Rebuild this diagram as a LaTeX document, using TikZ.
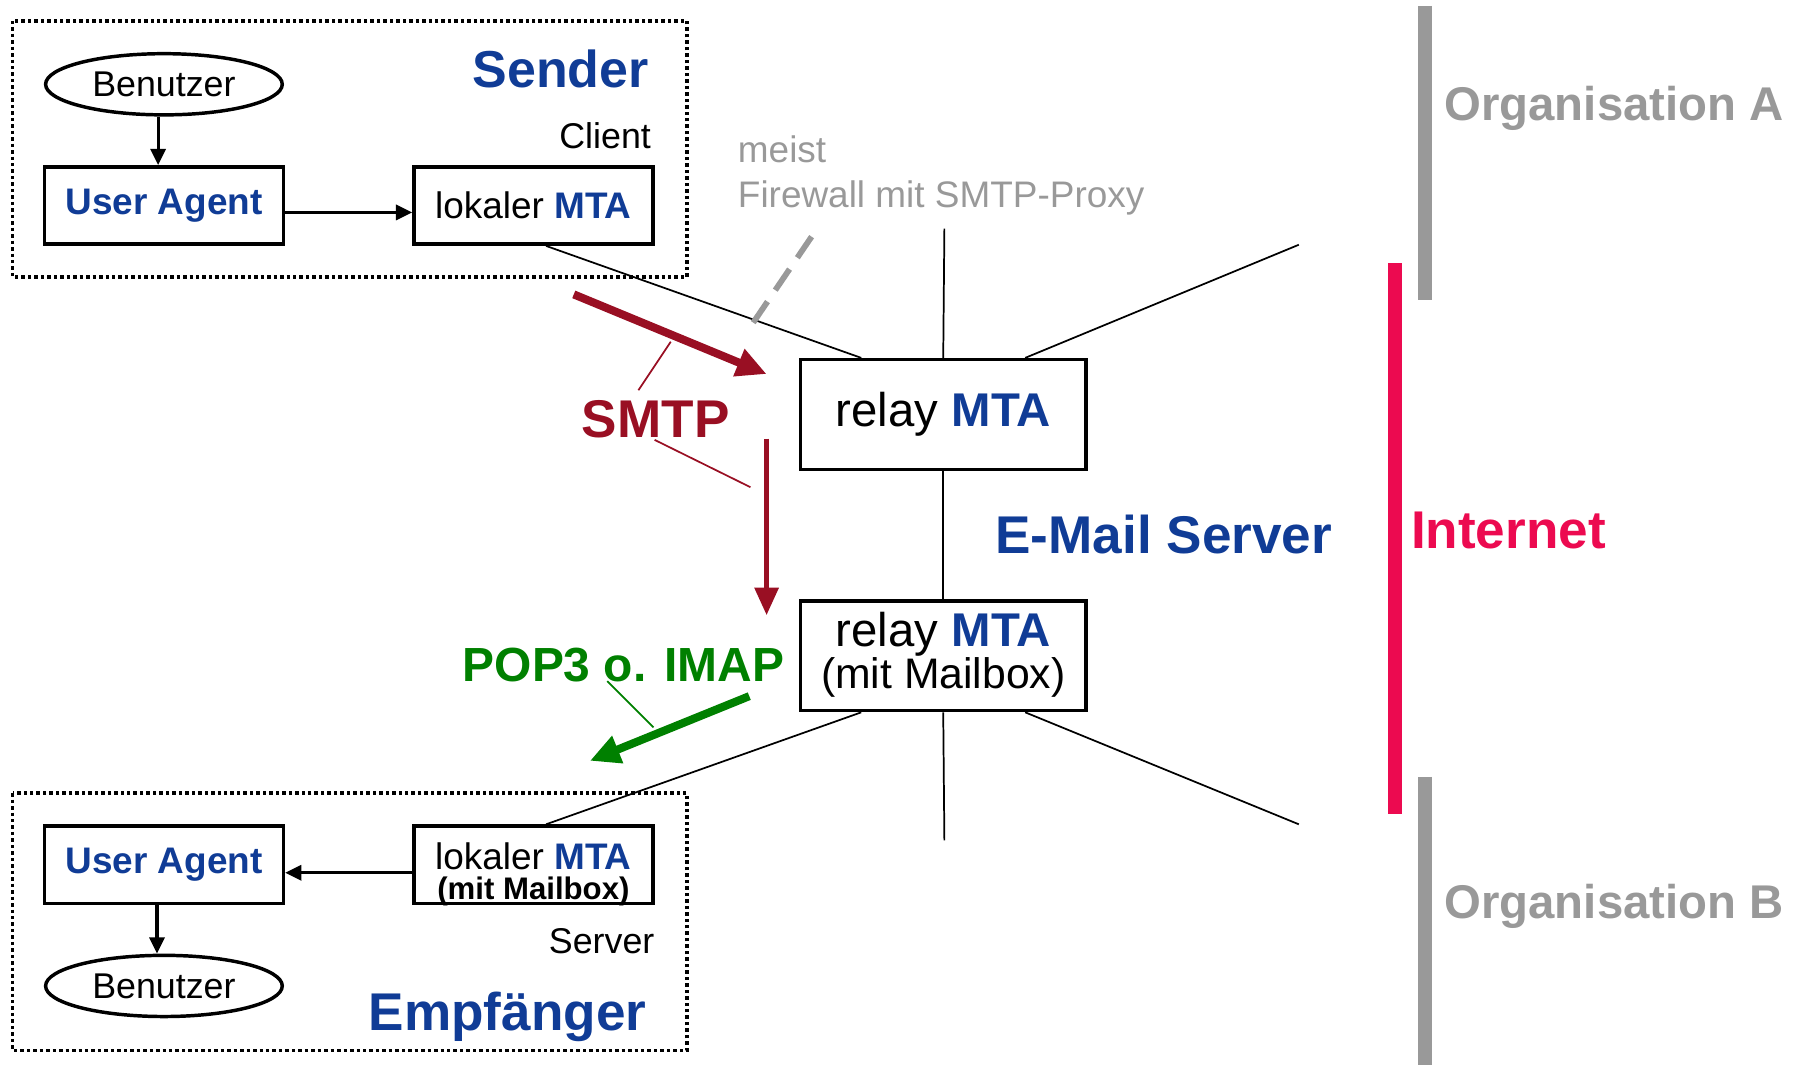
\documentclass[tikz,border=0pt]{standalone}
\usepackage{fontspec}
\setmainfont{Liberation Sans}
\usetikzlibrary{arrows.meta,shapes.geometric}
\definecolor{ublue}{RGB}{16,60,150}
\definecolor{smtpred}{RGB}{153,15,35}
\definecolor{popgreen}{RGB}{0,128,0}
\definecolor{netred}{RGB}{236,10,80}
\definecolor{orggray}{RGB}{153,153,153}
\newcommand\fsz[1]{\fontsize{#1}{#1}\selectfont}
\begin{document}
\begin{tikzpicture}[x=1pt,y=-1pt,
  box/.style={draw, line width=3pt, inner sep=0pt, minimum width=207pt, minimum height=67pt},
  relaybox/.style={draw, line width=3pt, inner sep=0pt, minimum width=247pt, minimum height=95pt},
  ell/.style={draw, ellipse, line width=3pt, inner sep=0pt, minimum width=205pt, minimum height=53pt, font=\fsz{31}},
  frame/.style={line width=3pt, dash pattern=on 3pt off 2.6pt},
  arr/.style={line width=2.8pt, -{Triangle[length=14pt,width=13pt]}},
  thin/.style={line width=1.5pt},
  uab/.style={text=ublue, font=\fsz{32}\bfseries},
  lbl/.style={inner sep=0pt}
]
\useasboundingbox (0,0) rectangle (1560,922.5);

% frames
\draw[frame] (11,18) rectangle (595,240);
\draw[frame] (11,687) rectangle (595,910);

% sender side
\node[ell] (ben1) at (142,73) {Benutzer};
\node[box, uab] (ua1) at (142,178) {User Agent};
\node[box, font=\fsz{32}] (lm1) at (462,178) {lokaler \textcolor{ublue}{\bfseries MTA}};
\node[lbl, anchor=base east, font=\fsz{45}\bfseries, text=ublue] (sender) at (562,76) {Sender};
\node[lbl, anchor=base east, font=\fsz{31}] (client) at (564,129) {Client};
\draw[arr] ([xshift=-5pt]ben1.south) -- ([xshift=-5pt]ua1.north);
\draw[arr] ([yshift=-6pt]ua1.east) -- ([yshift=-6pt]lm1.west);

% receiver side
\node[box, uab] (ua2) at (142,749) {User Agent};
\node[box] (lm2) at (462,749) {};
\node[lbl, font=\fsz{32}] (lm2t) at (462,742) {lokaler \textcolor{ublue}{\bfseries MTA}};
\node[lbl, font=\fsz{27}\bfseries] (lm2m) at (462,772) {(mit Mailbox)};
\node[ell] (ben2) at (142,854) {Benutzer};
\node[lbl, anchor=base east, font=\fsz{31}] (server) at (567,826) {Server};
\node[lbl, anchor=base east, font=\fsz{46}\bfseries, text=ublue] (empf) at (560,893) {Empf\"anger};
\draw[arr] ([yshift=-7pt]lm2.west) -- ([yshift=-7pt]ua2.east);
\draw[arr] ([xshift=-6pt]ua2.south) -- ([xshift=-6pt]ben2.north);

% relay MTAs
\node[relaybox, font=\fsz{41}] (r1) at (817,359) {relay \textcolor{ublue}{\bfseries MTA}};
\node[relaybox] (r2) at (817,568) {};
\node[lbl, font=\fsz{41}] (r2a) at (817,549) {relay \textcolor{ublue}{\bfseries MTA}};
\node[lbl, font=\fsz{37}] (r2b) at (817,587) {(mit Mailbox)};

% network lines
\coordinate (t1) at (818,198);
\coordinate (t2) at (1125,212);
\coordinate (b1) at (818,728);
\coordinate (b2) at (1125,714);
\draw[thin] ([xshift=11pt]lm1.south) -- ([xshift=-71pt]r1.north);
\draw[thin] (r1.north) -- (t1);
\draw[thin] ([xshift=71pt]r1.north) -- (t2);
\draw[thin] (r1.south) -- (r2.north);
\draw[thin] ([xshift=-71pt]r2.south) -- ([xshift=11pt]lm2.north);
\draw[thin] (r2.south) -- (b1);
\draw[thin] ([xshift=71pt]r2.south) -- (b2);

\node[lbl, anchor=base, font=\fsz{46}\bfseries, text=ublue] (ems) at (1008,479) {E-Mail Server};

% firewall note
\node[lbl, anchor=base west, font=\fsz{32}, text=orggray] (meist) at (639,141) {meist};
\node[lbl, anchor=base west, font=\fsz{32}, text=orggray] (fw) at (639,180) {Firewall mit SMTP-Proxy};
\coordinate (fw1) at (703,205);
\coordinate (fw2) at (650,283);
\draw[orggray, line width=5pt, dash pattern=on 22pt off 12pt] (fw1) -- (fw2);

% SMTP
\coordinate (s1a) at (497,255);
\coordinate (s1b) at (664,324);
\coordinate (s2a) at (664,380);
\coordinate (s2b) at (664,533);
\draw[smtpred, line width=7pt, -{Triangle[length=26pt,width=24pt]}] (s1a) -- (s1b);
\draw[smtpred, line width=5pt, -{Triangle[length=24pt,width=20pt]}] (s2a) -- (s2b);
\node[lbl, anchor=base, font=\fsz{46}\bfseries, text=smtpred] (smtp) at (568,379) {SMTP};
\coordinate (sp1) at (553,338);
\coordinate (sp2) at (581,296);
\coordinate (sp3) at (567,381);
\coordinate (sp4) at (650,422);
\draw[smtpred, thin] (sp1) -- (sp2);
\draw[smtpred, thin] (sp3) -- (sp4);

% POP3
\node[lbl, anchor=base, font=\fsz{41.5}\bfseries, text=popgreen] (pop) at (540,590) {POP3 o. IMAP};
\coordinate (p1) at (649,603);
\coordinate (p2) at (511,659);
\draw[popgreen, line width=7pt, -{Triangle[length=26pt,width=24pt]}] (p1) -- (p2);
\coordinate (pp1) at (526,590);
\coordinate (pp2) at (566,630);
\draw[popgreen, thin] (pp1) -- (pp2);

% internet / organisations
\coordinate (n1) at (1208,228);
\coordinate (n2) at (1208,705);
\draw[netred, line width=12pt] (n1) -- (n2);
\node[lbl, anchor=base west, font=\fsz{46}\bfseries, text=netred] (inet) at (1222,475) {Internet};
\coordinate (oa1) at (1234,5);
\coordinate (oa2) at (1234,260);
\coordinate (ob1) at (1234,673);
\coordinate (ob2) at (1234,922.5);
\draw[orggray, line width=12pt] (oa1) -- (oa2);
\draw[orggray, line width=12pt] (ob1) -- (ob2);
\node[lbl, anchor=base west, font=\fsz{41}\bfseries, text=orggray] (orga) at (1251,104) {Organisation A};
\node[lbl, anchor=base west, font=\fsz{41}\bfseries, text=orggray] (orgb) at (1251,796) {Organisation B};
\end{tikzpicture}
\end{document}
